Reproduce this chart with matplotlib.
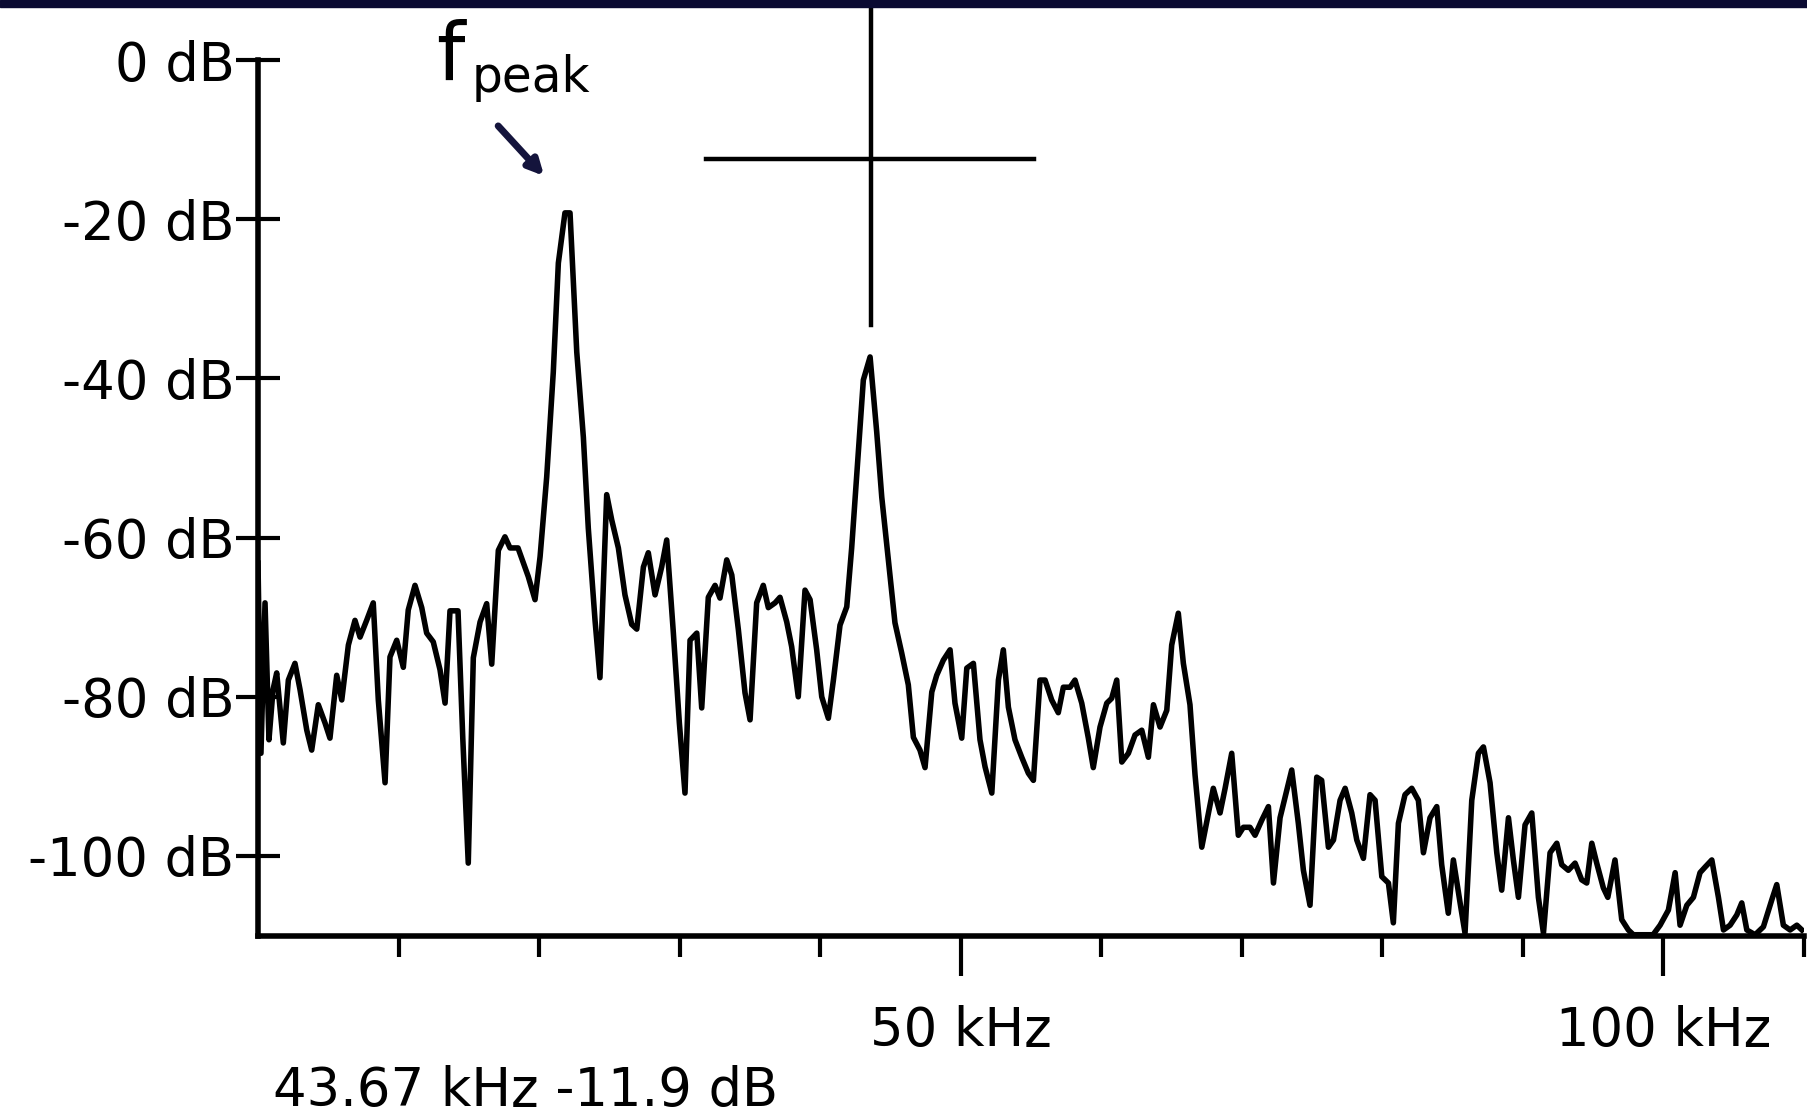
import matplotlib.pyplot as plt
from matplotlib.patches import Rectangle

# spectrum trace
freq_khz = [0.0, 0.21, 0.50, 0.78, 1.07, 1.33, 1.80, 2.16, 2.63, 2.99, 3.47, 3.82, 4.29, 4.77,
            5.12, 5.60, 5.96, 6.43, 6.90, 7.26, 7.73, 8.20, 8.56, 9.04, 9.39, 9.87, 10.34, 10.69,
            11.17, 11.65, 12.00, 12.47, 12.95, 13.31, 13.66, 14.23, 14.57, 14.96, 15.32, 15.80,
            16.27, 16.63, 17.10, 17.57, 17.93, 18.50, 19.23, 19.71, 20.07, 20.54, 21.01, 21.37,
            21.84, 22.20, 22.68, 23.15, 23.50, 23.98, 24.33, 24.81, 25.17, 25.64, 26.11, 26.59,
            26.95, 27.42, 27.77, 28.25, 28.72, 29.08, 29.55, 29.98, 30.38, 30.74, 31.22, 31.57,
            32.04, 32.52, 32.87, 33.35, 33.71, 34.18, 34.65, 35.01, 35.48, 35.95, 36.31, 36.79,
            37.14, 37.62, 37.97, 38.44, 38.92, 39.28, 39.75, 40.11, 40.58, 40.94, 41.41, 41.89,
            42.24, 42.71, 43.07, 43.55, 44.02, 44.38, 44.85, 45.32, 45.80, 46.27, 46.63, 47.10,
            47.46, 47.94, 48.29, 48.76, 49.24, 49.59, 50.07, 50.43, 50.90, 51.37, 51.73, 52.21,
            52.68, 53.03, 53.39, 53.86, 54.34, 54.81, 55.17, 55.64, 56.00, 56.47, 56.94, 57.30,
            57.78, 58.13, 58.61, 59.08, 59.43, 59.91, 60.39, 60.74, 61.10, 61.46, 61.93, 62.40,
            62.88, 63.35, 63.71, 64.18, 64.66, 65.01, 65.48, 65.84, 66.31, 66.67, 67.15, 67.97,
            68.45, 68.81, 69.28, 69.75, 70.11, 70.58, 70.94, 71.42, 71.89, 72.25, 72.72, 73.20,
            73.55, 74.02, 74.38, 74.85, 75.33, 75.68, 76.16, 76.52, 76.99, 77.35, 77.82, 78.18,
            78.65, 79.12, 79.48, 79.96, 80.43, 80.78, 81.14, 81.61, 82.09, 82.56, 82.92, 83.39,
            83.87, 84.22, 84.69, 85.05, 85.53, 85.88, 86.36, 86.83, 87.19, 87.66, 88.14, 88.49,
            88.97, 89.32, 89.68, 90.15, 90.63, 91.10, 91.46, 91.93, 92.41, 92.76, 93.23, 93.71,
            94.18, 94.54, 94.90, 95.25, 95.72, 96.04, 96.55, 97.03, 97.50, 97.86, 99.26, 99.76,
            100.35, 100.83, 101.18, 101.66, 102.13, 102.60, 102.96, 103.44, 103.91, 104.27,
            104.74, 105.22, 105.57, 105.93, 106.52, 107.11, 107.71, 108.06, 108.53, 109.01,
            109.49, 109.85]
level_db = [-63.2, -87.1, -68.2, -85.4, -79.1, -77.0, -85.8, -77.9, -75.8, -79.1, -84.2, -86.7, -81.0, -83.3,
            -85.2, -77.3, -80.4, -73.5, -70.4, -72.5, -70.4, -68.2, -80.4, -90.8, -75.0, -72.9, -76.3, -69.1,
            -66.0, -68.8, -72.0, -73.1, -76.6, -80.8, -69.2, -69.2, -85.2, -100.9, -75.1, -70.6,
            -68.3, -75.9, -61.6, -59.9, -61.3, -61.3, -64.9, -67.8, -62.4, -52.4, -39.2, -25.5,
            -19.2, -19.2, -36.7, -47.4, -58.8, -70.4, -77.6, -54.6, -57.8, -61.3, -67.2, -70.9,
            -71.5, -63.7, -61.9, -67.2, -63.7, -60.3, -71.9, -83.3, -92.1, -72.9, -72.0, -81.4,
            -67.5, -66.0, -67.6, -62.8, -64.7, -71.6, -79.5, -82.9, -68.2, -66.0, -68.8, -68.2,
            -67.5, -70.6, -73.7, -80.0, -66.6, -67.8, -74.1, -80.0, -82.7, -77.9, -71.0, -68.7,
            -61.3, -49.4, -40.2, -37.3, -46.7, -54.9, -62.8, -70.7, -74.5, -78.5, -85.1, -86.7,
            -88.9, -79.4, -77.3, -75.4, -74.1, -80.8, -85.2, -76.4, -75.8, -85.4, -88.8, -92.1,
            -77.9, -74.1, -81.3, -85.4, -87.6, -89.6, -90.5, -77.9, -77.9, -80.4, -82.0, -78.8,
            -78.8, -77.9, -80.8, -85.2, -88.9, -83.8, -80.8, -80.2, -77.9, -88.2, -87.1, -84.8,
            -84.2, -87.6, -81.0, -83.8, -81.7, -73.5, -69.5, -75.8, -81.0, -89.8, -98.9, -91.5,
            -94.6, -91.5, -87.1, -97.4, -96.4, -96.4, -97.4, -95.5, -93.8, -103.4, -95.2, -91.7,
            -89.2, -95.9, -101.8, -106.2, -90.1, -90.5, -98.9, -98.0, -93.0, -91.5, -94.6, -98.0,
            -100.3, -92.3, -93.0, -102.6, -103.4, -108.4, -95.9, -92.3, -91.5, -93.0, -99.6, -95.2,
            -93.8, -101.1, -107.2, -100.5, -105.9, -109.7, -93.0, -87.1, -86.3, -90.8, -99.6, -104.3,
            -95.2, -100.5, -105.2, -96.1, -94.6, -105.2, -109.7, -99.6, -98.4, -101.1, -101.8, -100.9,
            -103.0, -103.4, -98.4, -100.9, -104.0, -105.2, -100.5, -108.0, -109.3, -109.9, -109.9, -108.7,
            -106.8, -102.1, -108.7, -106.2, -105.2, -102.1, -101.4, -100.5, -105.2, -109.3,
            -108.7, -107.4, -105.9, -109.3, -109.9, -108.9, -105.5, -103.6, -108.7, -109.3,
            -108.7, -109.3]

# axis ticks
db_ticks = [0, -20, -40, -60, -80, -100]
db_labels = ['0 dB', '-20 dB', '-40 dB', '-60 dB', '-80 dB', '-100 dB']
khz_major = [50, 100]
khz_labels = ['50 kHz', '100 kHz']
khz_minor = [10, 20, 30, 40, 60, 70, 80, 90, 110]

# cursor readout and crosshair arms
cursor_f = 43.67
cursor_db = -11.9
cross_x = 43.6
cross_y = -12.4
cross_h = [31.9, 55.2]
cross_v = [-33.3, 7]

plt.rcParams['font.family'] = ['DejaVu Sans']

fig = plt.figure(figsize=(18.08, 11.16), dpi=100)
fig.patch.set_facecolor('white')
ax = fig.add_axes([0.1427, 0.1617, 0.8551, 0.8344])

ax.plot(freq_khz, level_db, color='black', lw=4)

# cursor crosshair
ax.plot([cross_x, cross_x], cross_v, color='black', lw=3.2, clip_on=False)
ax.plot(cross_h, [cross_y, cross_y], color='black', lw=3.2, clip_on=False)

ax.set_xlim(0, 110)
ax.set_ylim(-110, 7)

for s in ['top', 'right']:
    ax.spines[s].set_visible(False)
ax.spines['left'].set_bounds(-110, 0)
ax.spines['left'].set_linewidth(4)
ax.spines['bottom'].set_linewidth(4)

ax.set_yticks(db_ticks)
ax.set_yticklabels(db_labels)
ax.tick_params(axis='y', direction='inout', length=32, width=3, pad=1, labelsize=38)

ax.set_xticks(khz_major)
ax.set_xticklabels(khz_labels)
ax.set_xticks(khz_minor, minor=True)
ax.tick_params(axis='x', which='major', direction='out', length=29, width=3, pad=21, labelsize=38)
ax.tick_params(axis='x', which='minor', direction='out', length=15, width=3)

# f_peak label and arrow
fig.text(436 / 1808, 1 - 80 / 1116, 'f', fontsize=58, va='baseline', ha='left')
fig.text(472 / 1808, 1 - 92 / 1116, 'peak', fontsize=35, va='baseline', ha='left')
ax.annotate('', xy=(0.3020, 0.8405), xycoords='figure fraction',
            xytext=(0.2745, 0.889), textcoords='figure fraction',
            arrowprops=dict(arrowstyle='-|>,head_length=0.9,head_width=0.45',
                            lw=5, color='#14143c'))

# readout under the plot
fig.text(273 / 1808, 1 - 1091 / 1116, f'{cursor_f:.2f} kHz {cursor_db:.1f} dB',
         fontsize=38, va='center', ha='left')

# dark band along the top edge
fig.add_artist(Rectangle((0, 1 - 7 / 1116), 1, 7 / 1116, transform=fig.transFigure,
                         color='#0a0a32', zorder=10))

fig.savefig('out.png', dpi=100)
